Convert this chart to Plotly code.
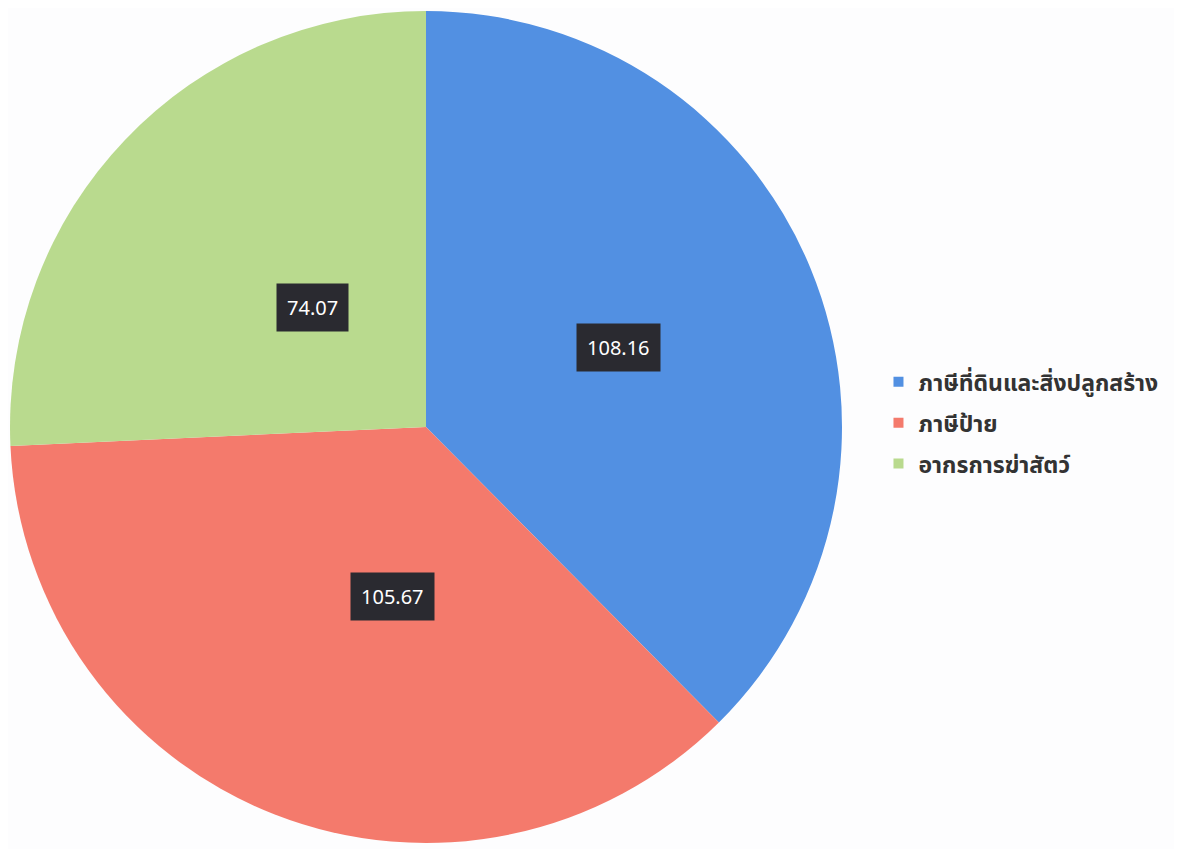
import math
import plotly.graph_objects as go

labels = ["ภาษีที่ดินและสิ่งปลูกสร้าง", "ภาษีป้าย", "อากรการฆ่าสัตว์"]
values = [108.16, 105.67, 74.07]
colors = ["#5290e2", "#f47a6c", "#b9da8e"]

W, H = 1182, 849
ML, MR, MT, MB = 2, 0, 3, 14
plot_w = W - ML - MR
plot_h = H - MT - MB
dom_x1 = plot_h / plot_w

fig = go.Figure(go.Pie(
    labels=labels, values=values, sort=False, direction="clockwise", rotation=0,
    marker=dict(colors=colors, line=dict(width=0)),
    textinfo="none", hoverinfo="label+value", showlegend=False,
    domain=dict(x=[0, dom_x1], y=[0, 1]),
))

# legend entries (one per category) so that the item spacing can be set
for lab, col in zip(labels, colors):
    fig.add_trace(go.Scatter(
        x=[None], y=[None], mode="markers", name=lab, legendgroup=lab,
        marker=dict(symbol="square", size=10, color=col), showlegend=True,
    ))

# label positions at half radius along each slice's mid-angle
total = sum(values)
cum = 0.0
rx = dom_x1 / 2
ry = 0.5
for v in values:
    mid = (cum + v / 2) / total * 2 * math.pi
    cum += v
    xp = rx + 0.5 * rx * math.sin(mid)
    yp = ry + 0.5 * ry * math.cos(mid)
    fig.add_annotation(x=xp, y=yp, xref="paper", yref="paper", text=f"{v:.2f}",
                       showarrow=False, bgcolor="#2a2a30", borderpad=10,
                       font=dict(color="white", size=20, family="Noto Sans, sans-serif"))

fig.update_layout(
    width=W, height=H,
    margin=dict(l=ML, r=MR, t=MT, b=MB),
    paper_bgcolor="#fdfdfe", plot_bgcolor="rgba(0,0,0,0)",
    xaxis=dict(visible=False), yaxis=dict(visible=False),
    showlegend=True,
    legend=dict(x=0.736, y=0.505, xanchor="left", yanchor="middle",
                font=dict(size=23, color="#333333", weight="bold",
                          family="Tahoma, Noto Sans Thai, sans-serif"),
                itemwidth=30, tracegroupgap=8, bgcolor="rgba(0,0,0,0)"),
)

fig.write_html("out.html")
